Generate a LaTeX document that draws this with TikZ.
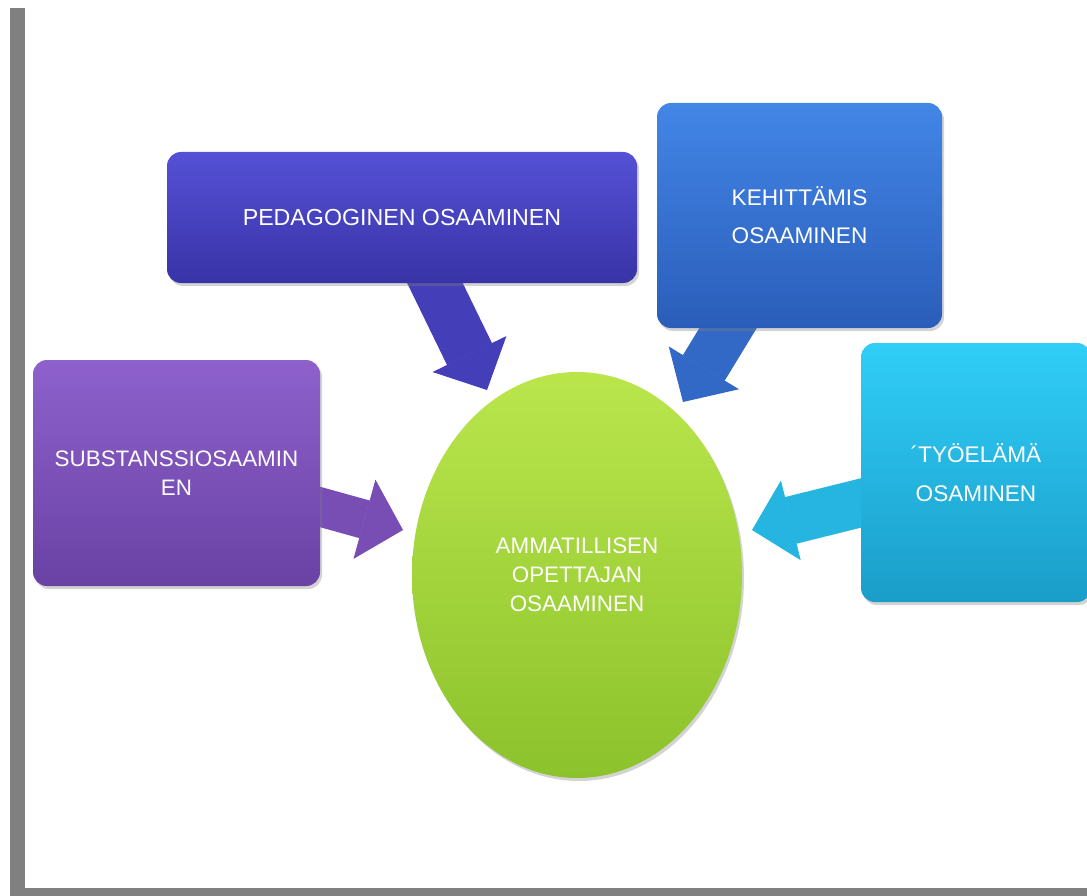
\documentclass[tikz,border=0pt]{standalone}
\usepackage{fontspec}
\setmainfont{Liberation Sans}
\usetikzlibrary{shapes.geometric,shadows,arrows.meta,calc,backgrounds}

\definecolor{reuna}{HTML}{808080}
\definecolor{pedyla}{HTML}{5551D6}
\definecolor{pedala}{HTML}{3833A6}
\definecolor{kehyla}{HTML}{4286E6}
\definecolor{kehala}{HTML}{2B5DBA}
\definecolor{subyla}{HTML}{8E61CC}
\definecolor{subala}{HTML}{6942A4}
\definecolor{tyoyla}{HTML}{30CEF7}
\definecolor{tyoala}{HTML}{1A9DC9}
\definecolor{ammyla}{HTML}{BAE64C}
\definecolor{ammala}{HTML}{8CC22C}

\begin{document}
\begin{tikzpicture}[x=1pt,y=1pt,
  osa/.style={rounded corners=14pt, inner sep=0pt, align=center, text=white,
    font=\fontsize{22.4}{29}\selectfont,
    drop shadow={opacity=0.35, shadow xshift=2pt, shadow yshift=-3pt}},
  nuoli/.style={-{Triangle[width=82pt,length=40pt,line width=1pt]}}]
\useasboundingbox (0,0) rectangle (1087,-896);
% harmaa reunus
\fill[reuna] (10,-8) rectangle (25,-896);
\fill[reuna] (10,-888) rectangle (1087,-896);

\node[osa, minimum width=470pt, minimum height=131pt, top color=pedyla, bottom color=pedala, font=\fontsize{23.2}{29}\selectfont] (ped) at (402,-217.5) {PEDAGOGINEN OSAAMINEN};
\node[osa, minimum width=285pt, minimum height=225pt, top color=kehyla, bottom color=kehala, font=\fontsize{22.6}{38}\selectfont] (keh) at (799.5,-215.5) {KEHITTÄMIS\\OSAAMINEN};
\node[osa, minimum width=287pt, minimum height=226pt, top color=subyla, bottom color=subala] (sub) at (176.5,-473) {SUBSTANSSIOSAAMIN\\EN};
\node[osa, minimum width=230pt, minimum height=259pt, top color=tyoyla, bottom color=tyoala, font=\fontsize{22.6}{39}\selectfont] (tyo) at (976,-472.5) {´TYÖELÄMÄ\\OSAMINEN};
\node[osa, ellipse, minimum width=330pt, minimum height=406pt, top color=ammyla, bottom color=ammala] (amm) at (577,-575) {AMMATILLISEN\\OPETTAJAN\\OSAAMINEN};

\coordinate (pedkanta) at ([xshift=33pt]ped.south);
\coordinate (pedkarki) at (487,-390);
\coordinate (kehkanta) at ([xshift=-71.5pt]keh.south);
\coordinate (kehkarki) at (683,-402);
\coordinate (subkanta) at ([yshift=-34pt]sub.east);
\coordinate (subkarki) at (403,-530);
\coordinate (tyokanta) at ([yshift=-30.5pt]tyo.west);
\coordinate (tyokarki) at (752,-530);

\begin{pgfonlayer}{background}
\draw[nuoli, line width=50pt, color=pedala!60!pedyla] ($(pedkanta)!-20pt!(pedkarki)$) -- (pedkarki);
\draw[nuoli, line width=49pt, color=kehala!70!kehyla] ($(kehkanta)!-20pt!(kehkarki)$) -- (kehkarki);
\draw[nuoli, line width=39pt, color=subala!60!subyla] ($(subkanta)!-20pt!(subkarki)$) -- (subkarki);
\draw[nuoli, line width=48pt, color=tyoala!50!tyoyla] ($(tyokanta)!-20pt!(tyokarki)$) -- (tyokarki);
\end{pgfonlayer}
\end{tikzpicture}
\end{document}
